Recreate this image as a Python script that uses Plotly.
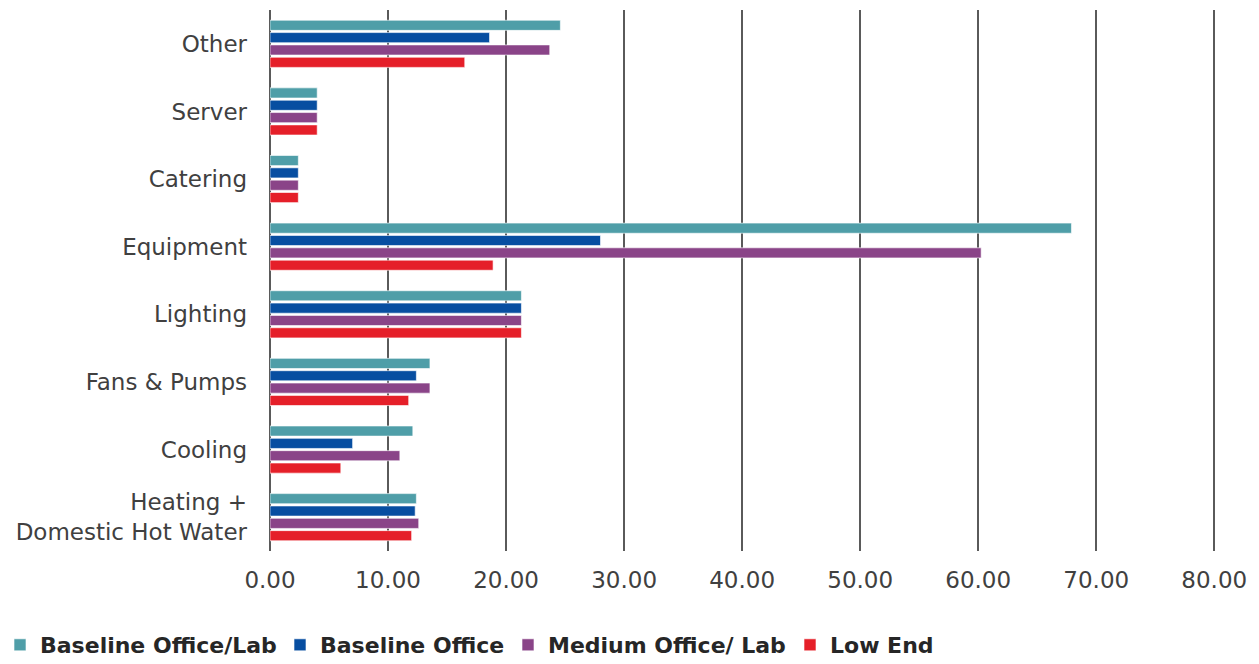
import plotly.graph_objects as go

categories = ["Other", "Server", "Catering", "Equipment", "Lighting",
              "Fans & Pumps", "Cooling", "Heating +<br>Domestic Hot Water"]

baseline_office_lab = [24.6, 4.0, 2.4, 67.9, 21.3, 13.55, 12.1, 12.4]
baseline_office = [18.6, 4.0, 2.4, 28.0, 21.3, 12.4, 7.0, 12.3]
medium_office_lab = [23.7, 4.0, 2.4, 60.25, 21.3, 13.55, 11.0, 12.6]
low_end = [16.5, 4.0, 2.4, 18.9, 21.3, 11.75, 6.0, 12.0]

series_names = ["Baseline Office/Lab", "Baseline Office", "Medium Office/ Lab", "Low End"]
series_values = [baseline_office_lab, baseline_office, medium_office_lab, low_end]
series_colors = ["#4F9EA8", "#074EA1", "#8A4488", "#E51F29"]

tick_vals = [0, 10, 20, 30, 40, 50, 60, 70, 80]
tick_text = ["0.00", "10.00", "20.00", "30.00", "40.00", "50.00", "60.00", "70.00", "80.00"]

W, H = 1259, 664
FONT = "DejaVu Sans, Liberation Sans, Arial, sans-serif"

# one legend box per series so each entry sits at its own spot along the bottom
legend_ids = ["legend", "legend2", "legend3", "legend4"]
legend_left_px = [-1, 280, 508, 790]

fig = go.Figure()
for name, vals, color, lid in zip(series_names, series_values, series_colors, legend_ids):
    fig.add_trace(go.Bar(
        y=categories, x=vals, name=name, orientation="h", legend=lid,
        marker=dict(color=color, line=dict(color="rgba(255,255,255,0.6)", width=1)),
    ))

legend_style = dict(
    orientation="h", xref="container", yref="container",
    xanchor="left", yanchor="middle", y=(H - 645) / H,
    font=dict(family=FONT, size=22, color="#262626", weight="bold"),
    bgcolor="rgba(0,0,0,0)", borderwidth=0,
)
legends = {lid: dict(legend_style, x=px / W) for lid, px in zip(legend_ids, legend_left_px)}

fig.update_layout(
    width=W, height=H,
    margin=dict(l=270, r=40, t=10, b=113),
    plot_bgcolor="white", paper_bgcolor="white",
    barmode="group", bargap=0.27, bargroupgap=0.18,
    font=dict(family=FONT, size=23, color="#404040"),
    showlegend=True,
    xaxis=dict(
        range=[0, 80.4], tickvals=tick_vals, ticktext=tick_text,
        showgrid=True, gridcolor="#5a5a5a", gridwidth=1.5,
        zeroline=True, zerolinecolor="#5a5a5a", zerolinewidth=1.5,
        showline=False, ticks="", ticklabelstandoff=13,
        tickfont=dict(family=FONT, size=23, color="#404040"),
    ),
    yaxis=dict(
        autorange="reversed", showgrid=False, zeroline=False, showline=False,
        ticks="", ticklabelstandoff=22,
        tickfont=dict(family=FONT, size=23, color="#404040"),
    ),
    **legends,
)

fig.write_html("out.html")
